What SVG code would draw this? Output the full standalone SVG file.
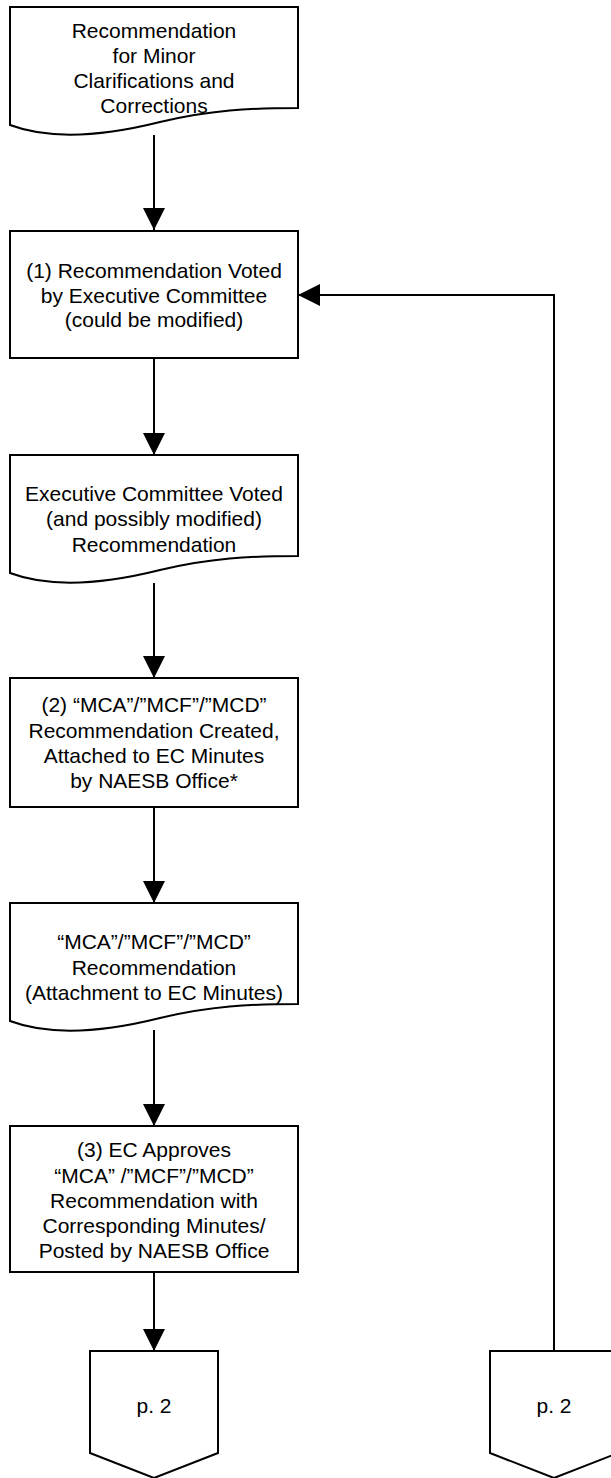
<svg xmlns="http://www.w3.org/2000/svg" width="611" height="1478" viewBox="0 0 611 1478">
<style>
.shape{fill:#fff;stroke:#000;stroke-width:2;stroke-linejoin:miter}
.conn{fill:none;stroke:#000;stroke-width:2}
text{font-family:"Liberation Sans",Arial,sans-serif;font-size:21px;fill:#000;text-anchor:middle}
</style>
<defs>
<marker id="ah" markerUnits="userSpaceOnUse" markerWidth="22" markerHeight="22" viewBox="0 0 20 20" refX="20" refY="10" orient="auto">
<path d="M0,0 L20,10 L0,20 Z" fill="#000"/>
</marker>
</defs>
<g id="connectors">
<path class="conn" d="M154,135 V230" marker-end="url(#ah)"/>
<path class="conn" d="M154,358 V455" marker-end="url(#ah)"/>
<path class="conn" d="M154,583 V678" marker-end="url(#ah)"/>
<path class="conn" d="M154,807 V903" marker-end="url(#ah)"/>
<path class="conn" d="M154,1030 V1126" marker-end="url(#ah)"/>
<path class="conn" d="M154,1272 V1351" marker-end="url(#ah)"/>
<path class="conn" d="M554,1351 V295 H298" marker-end="url(#ah)"/>
</g>
<g id="doc1">
<path class="shape" d="M10,7 H298 V108 C250,108 210,110 160,122 C100,137 50,140 10,125 Z"/>
<text x="154" y="38">Recommendation</text>
<text x="154" y="63">for Minor</text>
<text x="154" y="88">Clarifications and</text>
<text x="154" y="113">Corrections</text>
</g>
<g id="box1">
<rect class="shape" x="10" y="231" width="288" height="127"/>
<text x="154" y="278">(1) Recommendation Voted</text>
<text x="154" y="302.5">by Executive Committee</text>
<text x="154" y="327">(could be modified)</text>
</g>
<g id="doc2">
<path class="shape" d="M10,455 H298 V556 C250,556 210,558 160,570 C100,585 50,588 10,573 Z"/>
<text x="154" y="500.5">Executive Committee Voted</text>
<text x="154" y="526">(and possibly modified)</text>
<text x="154" y="551.5">Recommendation</text>
</g>
<g id="box2">
<rect class="shape" x="10" y="678" width="288" height="129"/>
<text x="154" y="712">(2) “MCA”/”MCF”/”MCD”</text>
<text x="154" y="737.5">Recommendation Created,</text>
<text x="154" y="763">Attached to EC Minutes</text>
<text x="154" y="788">by NAESB Office*</text>
</g>
<g id="doc3">
<path class="shape" d="M10,903 H298 V1004 C250,1004 210,1006 160,1018 C100,1033 50,1036 10,1021 Z"/>
<text x="154" y="948.5">“MCA”/”MCF”/”MCD”</text>
<text x="154" y="974.5">Recommendation</text>
<text x="154" y="1000">(Attachment to EC Minutes)</text>
</g>
<g id="box3">
<rect class="shape" x="10" y="1126" width="288" height="146"/>
<text x="154" y="1157">(3) EC Approves</text>
<text x="154" y="1182.5">“MCA” /”MCF”/”MCD”</text>
<text x="154" y="1208">Recommendation with</text>
<text x="154" y="1233">Corresponding Minutes/</text>
<text x="154" y="1258">Posted by NAESB Office</text>
</g>
<g id="offpage1">
<path class="shape" d="M90,1351 H218 V1453 L154,1478 L90,1453 Z"/>
<text x="154" y="1413">p. 2</text>
</g>
<g id="offpage2">
<path class="shape" d="M490,1351 H618 V1453 L554,1478 L490,1453 Z"/>
<text x="554" y="1413">p. 2</text>
</g>
</svg>
